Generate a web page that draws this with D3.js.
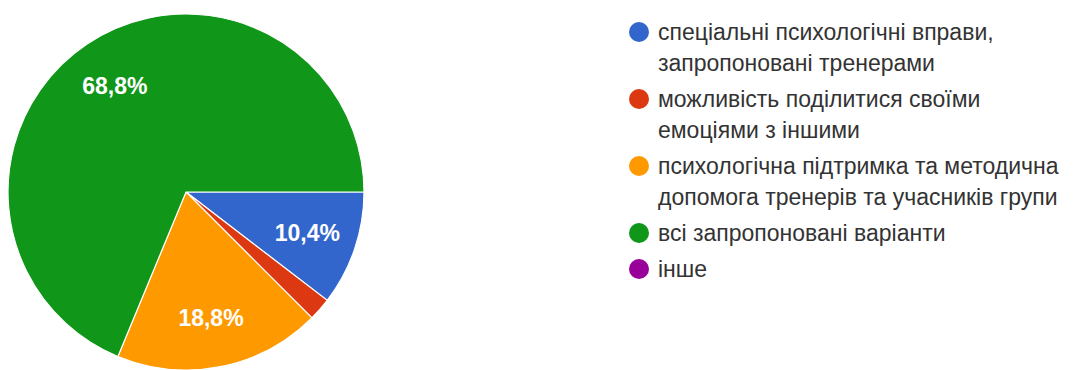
<!DOCTYPE html>
<html>
<head>
<meta charset="utf-8">
<script src="https://cdn.jsdelivr.net/npm/d3@7"></script>
<style>
  body { margin: 0; background: #fff; }
  svg { display: block; }
</style>
</head>
<body>
<svg width="1081" height="370"></svg>
<script>
const CATEGORIES = [
    "спеціальні психологічні вправи, запропоновані тренерами",
    "можливість поділитися своїми емоціями з іншими",
    "психологічна підтримка та методична допомога тренерів та учасників групи",
    "всі запропоновані варіанти",
    "інше"
];
const LEGEND_LINES = [
    ["спеціальні психологічні вправи,", "запропоновані тренерами"],
    ["можливість поділитися своїми", "емоціями з іншими"],
    ["психологічна підтримка та методична", "допомога тренерів та учасників групи"],
    ["всі запропоновані варіанти"],
    ["інше"]
];
const COUNTS = [5, 1, 9, 33, 0];
const COLORS = ["#3366cc", "#dc3912", "#ff9900", "#109618", "#990099"];

const svg = d3.select('svg');
const radius = 178;
const cx = 186, cy = 192;

const pie = d3.pie()
    .sort(null)
    .startAngle(Math.PI / 2)
    .endAngle(Math.PI / 2 + 2 * Math.PI)
    .value(d => d);

const arcs = pie(COUNTS);
const total = d3.sum(COUNTS);

const arc = d3.arc().innerRadius(0).outerRadius(radius);
const labelArc = d3.arc().innerRadius(radius * 0.72).outerRadius(radius * 0.72);

const g = svg.append('g').attr('transform', `translate(${cx},${cy})`);

g.selectAll('.slice')
    .data(arcs.filter(d => d.value > 0))
    .enter()
    .append('path')
    .classed('slice', true)
    .attr('d', arc)
    .attr('fill', d => COLORS[d.index])
    .attr('stroke', '#fff')
    .attr('stroke-width', 1.2);

const fmt = v => (v * 100).toFixed(1).replace('.', ',') + '%';

g.selectAll('.label')
    .data(arcs.filter(d => d.value / total > 0.05))
    .enter()
    .append('text')
    .classed('label', true)
    .attr('transform', d => `translate(${labelArc.centroid(d)})`)
    .attr('text-anchor', 'middle')
    .attr('dy', '0.36em')
    .attr('fill', '#fff')
    .style('font-family', '"Liberation Sans", Arial, sans-serif')
    .style('font-size', '23px')
    .style('font-weight', 'bold')
    .text(d => fmt(d.value / total));

// legend
const legendX = 639, lineH = 31, itemGap = 36;
let y = 32;
const legend = svg.append('g')
    .style('font-family', '"Liberation Sans", Arial, sans-serif')
    .style('font-size', '23px');

LEGEND_LINES.forEach((lines, i) => {
    legend.append('circle')
        .attr('cx', legendX)
        .attr('cy', y)
        .attr('r', 10)
        .attr('fill', COLORS[i]);
    lines.forEach((ln, j) => {
        legend.append('text')
            .attr('x', legendX + 19)
            .attr('y', y + j * lineH)
            .attr('dy', '0.35em')
            .attr('fill', '#333')
            .text(ln);
    });
    y += (lines.length - 1) * lineH + itemGap;
});
</script>
</body>
</html>
